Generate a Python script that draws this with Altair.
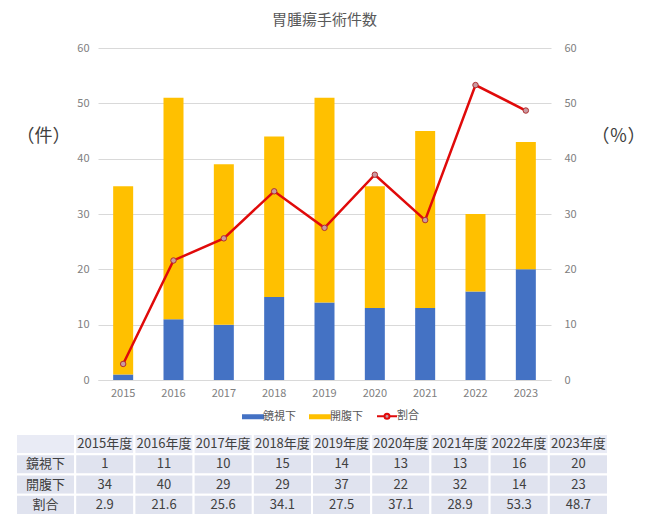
import altair as alt
import pandas as pd

years = ["2015", "2016", "2017", "2018", "2019", "2020", "2021", "2022", "2023"]
scope = [1, 11, 10, 15, 14, 13, 13, 16, 20]
open_ = [34, 40, 29, 29, 37, 22, 32, 14, 23]
ratio = [2.9, 21.6, 25.6, 34.1, 27.5, 37.1, 28.9, 53.3, 48.7]
ratio_txt = ["2.9", "21.6", "25.6", "34.1", "27.5", "37.1", "28.9", "53.3", "48.7"]
series = ["鏡視下", "開腹下", "割合"]
y_ticks = [0, 10, 20, 30, 40, 50, 60]
table_cols = ["", "2015年度", "2016年度", "2017年度", "2018年度", "2019年度", "2020年度",
              "2021年度", "2022年度", "2023年度"]
table_rows = ["head", "鏡視下", "開腹下", "割合"]

FONT = "Noto Sans CJK JP"
BLUE = "#4472C4"
YELLOW = "#FFC000"
RED = "#E00A0A"
MARK_FILL = "#C99AA2"

bar_rows = []
for i, y in enumerate(years):
    bar_rows.append({"year": y, "series": "鏡視下", "value": scope[i], "ord": 0})
    bar_rows.append({"year": y, "series": "開腹下", "value": open_[i], "ord": 1})
bars_df = pd.DataFrame(bar_rows)
ratio_df = pd.DataFrame({"year": years, "ratio": ratio, "series": "割合"})
legend_df = pd.DataFrame({"year": ["2015"] * 3, "ratio": [0, 0, 0], "series": series})

x_enc = alt.X("year:N", sort=years, title=None,
              scale=alt.Scale(paddingInner=0.6, paddingOuter=0.3),
              axis=alt.Axis(labelAngle=0, labelColor="#808080", labelFontSize=11,
                            labelFont=FONT, ticks=False, domainColor="#D9D9D9",
                            labelPadding=7, grid=False))

bars = alt.Chart(bars_df).mark_bar(size=20).encode(
    x=x_enc,
    y=alt.Y("value:Q", stack="zero", scale=alt.Scale(domain=[0, 60], nice=False),
            axis=alt.Axis(values=y_ticks, title="（件）", titleAngle=0, titleAlign="center",
                          titleBaseline="middle", titleX=-55, titleY=88, titleFontSize=18,
                          titleFontWeight="normal", titleColor="#404040", titleFont=FONT,
                          labelColor="#808080", labelFontSize=11, labelFont=FONT,
                          ticks=False, domain=False, labelPadding=9,
                          gridColor="#D9D9D9", gridWidth=1)),
    color=alt.Color("series:N", scale=alt.Scale(domain=["鏡視下", "開腹下"], range=[BLUE, YELLOW]),
                    legend=None),
    order=alt.Order("ord:Q"),
)

y2_axis = alt.Axis(values=y_ticks, orient="right", title="（％）", titleAngle=0, titleAlign="center",
                   titleBaseline="middle", titleX=67, titleY=88, titleFontSize=18,
                   titleFontWeight="normal", titleColor="#404040", titleFont=FONT,
                   labelColor="#808080", labelFontSize=11, labelFont=FONT,
                   ticks=False, domain=False, labelPadding=13, grid=False)
y2 = alt.Y("ratio:Q", scale=alt.Scale(domain=[0, 60], nice=False), axis=y2_axis)

line = alt.Chart(ratio_df).mark_line(color=RED, strokeWidth=2.5).encode(x=x_enc, y=y2)
points = alt.Chart(ratio_df).mark_point(filled=True, fill=MARK_FILL, stroke="#B03030",
                                        strokeWidth=1, size=30, opacity=1).encode(x=x_enc, y=y2)

shape_paths = [
    "M-2,-0.3H2V0.3H-2Z",
    "M-2,-0.3H2V0.3H-2Z",
    "M-2,0H-0.5M0.5,0H2M0.5,0A0.5,0.5,0,1,1,-0.5,0A0.5,0.5,0,1,1,0.5,0Z",
]
leg = alt.Legend(title=None, orient="none", legendX=149, legendY=362, direction="horizontal",
                 symbolSize=100, symbolOpacity=1, symbolStrokeWidth=2, labelFont=FONT,
                 labelFontSize=11, labelColor="#595959", columnPadding=10, labelOffset=4)
legend_layer = alt.Chart(legend_df).mark_point(filled=True, opacity=0).encode(
    x=x_enc, y=y2,
    fill=alt.Fill("series:N", scale=alt.Scale(domain=series, range=[BLUE, YELLOW, MARK_FILL]), legend=leg),
    stroke=alt.Stroke("series:N", scale=alt.Scale(domain=series, range=[BLUE, YELLOW, RED]), legend=leg),
    shape=alt.Shape("series:N", scale=alt.Scale(domain=series, range=shape_paths), legend=leg),
)

plot_part = alt.layer(bars, alt.layer(line, points, legend_layer)).resolve_scale(y="independent")

# table
cells = []
for j, c in enumerate(table_cols):
    cells.append({"col": str(j), "row": "head", "text": c})
for r, vals in [("鏡視下", [str(v) for v in scope]), ("開腹下", [str(v) for v in open_]),
                ("割合", ratio_txt)]:
    cells.append({"col": "0", "row": r, "text": r})
    for j, v in enumerate(vals):
        cells.append({"col": str(j + 1), "row": r, "text": v})
cells_df = pd.DataFrame(cells)
col_order = [str(j) for j in range(10)]

tx = alt.X("col:N", sort=col_order, axis=None,
           scale=alt.Scale(paddingInner=0, paddingOuter=0, range=[-82, 510]))
ty = alt.Y("row:N", sort=table_rows, axis=None,
           scale=alt.Scale(paddingInner=0, paddingOuter=0, range=[386, 467]))
rects = alt.Chart(cells_df).mark_rect(stroke="white", strokeWidth=2).encode(
    x=tx, y=ty,
    fill=alt.condition(alt.datum.row == "head", alt.value("#E9EBF5"), alt.value("#E0E3EF")),
)
texts = alt.Chart(cells_df).mark_text(font=FONT, fontSize=13, color="#404040").encode(
    x=tx, y=ty, text="text:N")
table_part = alt.layer(rects, texts)

chart = alt.layer(plot_part, table_part).resolve_scale(x="independent", y="independent").properties(
    width=453, height=332,
    title=alt.TitleParams("胃腫瘍手術件数", fontSize=15, font=FONT, color="#595959",
                          fontWeight="normal", anchor="middle", frame="group", offset=14),
    padding={"left": 7, "top": 5, "right": 5, "bottom": 5},
).configure_view(stroke=None)

chart.save("out.html", embed_options={"renderer": "svg", "actions": False})
